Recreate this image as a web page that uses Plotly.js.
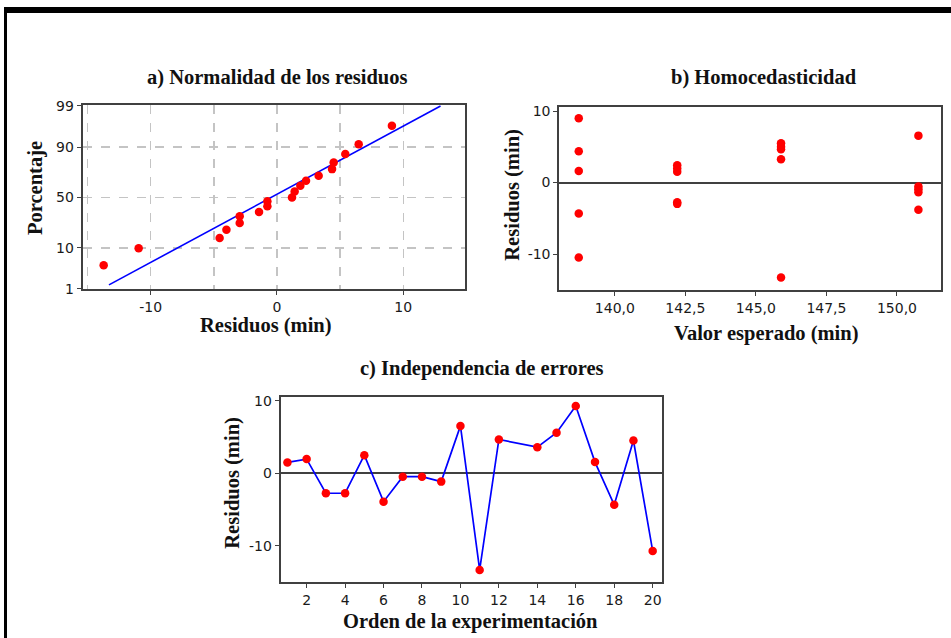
<!DOCTYPE html>
<html><head><meta charset="utf-8">
<script src="https://cdn.plot.ly/plotly-3.0.1.min.js"></script>
<style>html,body{margin:0;padding:0;background:#fff;overflow:hidden}#chart{width:951px;height:638px}</style>
</head><body><div id="chart"></div>
<script>
// ---- Panel a: normal probability plot ----
const normResid = [-13.72, -10.95, -4.54, -4.0, -2.95, -2.95, -1.42, -0.76, -0.76, 1.19, 1.4, 1.85, 2.3, 3.3, 4.36, 4.49, 5.41, 6.47, 9.1];
const normPct   = [4.2, 9.8, 15.1, 20.6, 25.8, 31.5, 35.6, 41, 46, 50, 56, 61.7, 66.4, 71, 76.4, 81.3, 86.5, 91.2, 96.6];
const fitLineResid = [-13.3, 12.95];
const fitLinePct   = [1.3, 99];
const pctTickVals = [1, 10, 50, 90, 99];
const pctTickText = ['1', '10', '50', '90', '99'];
const normXTickVals = [-10, 0, 10];
const normXTickText = ['-10', '0', '10'];

// ---- Panel b: residuals vs fitted ----
const fittedValues = [138.72,138.72,138.72,138.72,138.72, 142.21,142.21,142.21,142.21,142.21, 145.89,145.89,145.89,145.89,145.89, 150.76,150.76,150.76,150.76,150.76];
const fittedResid  = [8.98, 4.37, 1.63, -4.33, -10.47, 2.42, 1.96, 1.5, -2.74, -2.98, 5.49, 5.02, 4.65, 3.26, -13.26, 6.56, -0.56, -0.93, -1.35, -3.81];
const fittedTickVals = [140, 142.5, 145, 147.5, 150];
const fittedTickText = ['140,0', '142,5', '145,0', '147,5', '150,0'];
const residTickVals = [-10, 0, 10];
const residTickText = ['-10', '0', '10'];

// ---- Panel c: residuals vs order ----
const runOrder = [1,2,3,4,5,6,7,8,9,10,11,12,14,15,16,17,18,19,20];
const runResid = [1.5, 1.96, -2.74, -2.74, 2.5, -3.9, -0.46, -0.46, -1.14, 6.53, -13.3, 4.66, 3.6, 5.6, 9.27, 1.55, -4.34, 4.52, -10.68];
const orderTickVals = [2,4,6,8,10,12,14,16,18,20];
const orderTickText = ['2','4','6','8','10','12','14','16','18','20'];

// inverse standard normal CDF (Acklam) for the probability axis scale
function invNorm(p) {
  const a=[-3.969683028665376e+01,2.209460984245205e+02,-2.759285104469687e+02,1.383577518672690e+02,-3.066479806614716e+01,2.506628277459239e+00];
  const b=[-5.447609879822406e+01,1.615858368580409e+02,-1.556989798598866e+02,6.680131188771972e+01,-1.328068155288572e+01];
  const c=[-7.784894002430293e-03,-3.223964580411365e-01,-2.400758277161838e+00,-2.549732539343734e+00,4.374664141464968e+00,2.938163982698783e+00];
  const d=[7.784695709041462e-03,3.224671290700398e-01,2.445134137142996e+00,3.754408661907416e+00];
  const pl=0.02425, ph=1-pl; let q,r;
  if (p<pl){q=Math.sqrt(-2*Math.log(p));return (((((c[0]*q+c[1])*q+c[2])*q+c[3])*q+c[4])*q+c[5])/((((d[0]*q+d[1])*q+d[2])*q+d[3])*q+1);}
  if (p<=ph){q=p-0.5;r=q*q;return (((((a[0]*r+a[1])*r+a[2])*r+a[3])*r+a[4])*r+a[5])*q/(((((b[0]*r+b[1])*r+b[2])*r+b[3])*r+b[4])*r+1);}
  q=Math.sqrt(-2*Math.log(1-p));return -(((((c[0]*q+c[1])*q+c[2])*q+c[3])*q+c[4])*q+c[5])/((((d[0]*q+d[1])*q+d[2])*q+d[3])*q+1);
}
const z = arr => arr.map(v => invNorm(v/100));

const W = 951, H = 638;
const px = v => v / W, py = v => 1 - v / H;

const RED = '#ff0000', BLUE = '#0000ff';
const tickFont = {family: 'DejaVu Sans, Verdana, sans-serif', size: 14, color: '#1a1a1a'};
const titleFont = {family: 'Liberation Serif, Times New Roman, serif', size: 20.5, color: '#111'};

const axBase = {
  showline: true, mirror: true, linecolor: '#404040', linewidth: 2,
  ticks: 'outside', ticklen: 4, tickwidth: 1, tickcolor: '#404040',
  tickfont: tickFont, showgrid: false, zeroline: false, fixedrange: true
};

const traces = [
  {x: fitLineResid, y: z(fitLinePct), xaxis: 'x', yaxis: 'y', mode: 'lines',
   line: {color: BLUE, width: 1.6}, hoverinfo: 'skip'},
  {x: normResid, y: z(normPct), xaxis: 'x', yaxis: 'y', mode: 'markers',
   marker: {color: RED, size: 8.5}},
  {x: fittedValues, y: fittedResid, xaxis: 'x2', yaxis: 'y2', mode: 'markers',
   marker: {color: RED, size: 8.5}},
  {x: runOrder, y: runResid, xaxis: 'x3', yaxis: 'y3', mode: 'lines+markers',
   line: {color: BLUE, width: 1.7}, marker: {color: RED, size: 8.5}}
];

const gridStyle = {showgrid: true, gridcolor: '#c4c4c4', gridwidth: 1.5, griddash: 'dash'};

const layout = {
  width: W, height: H, margin: {l: 0, r: 0, t: 0, b: 0},
  paper_bgcolor: '#fff', plot_bgcolor: '#fff', showlegend: false,
  xaxis: Object.assign({}, axBase, gridStyle, {
    domain: [px(82.7), px(465.3)], anchor: 'y', range: [-15.38, 14.91],
    tickmode: 'array', tickvals: normXTickVals, ticktext: normXTickText,
    minor: {tickmode: 'array', tickvals: [-15, -5, 5, 15], ticklen: 0, showgrid: true,
            gridcolor: '#c4c4c4', gridwidth: 1.5, griddash: 'dash'}
  }),
  yaxis: Object.assign({}, axBase, gridStyle, {
    domain: [py(289), py(105)], anchor: 'x', range: [-2.33, 2.35],
    tickmode: 'array', tickvals: z(pctTickVals), ticktext: pctTickText
  }),
  xaxis2: Object.assign({}, axBase, {
    domain: [px(559.3), px(940.7)], anchor: 'y2', range: [138.03, 151.55],
    tickmode: 'array', tickvals: fittedTickVals, ticktext: fittedTickText
  }),
  yaxis2: Object.assign({}, axBase, {
    domain: [py(290), py(107.3)], anchor: 'x2', range: [-15.02, 10.52],
    tickmode: 'array', tickvals: residTickVals, ticktext: residTickText,
    zeroline: true, zerolinecolor: '#404040', zerolinewidth: 2
  }),
  xaxis3: Object.assign({}, axBase, {
    domain: [px(280.7), px(661.7)], anchor: 'y3', range: [0.65, 20.47],
    tickmode: 'array', tickvals: orderTickVals, ticktext: orderTickText
  }),
  yaxis3: Object.assign({}, axBase, {
    domain: [py(582.3), py(396.7)], anchor: 'x3', range: [-15.0, 10.55],
    tickmode: 'array', tickvals: residTickVals, ticktext: residTickText,
    zeroline: true, zerolinecolor: '#404040', zerolinewidth: 2
  }),
  shapes: [
    {type: 'rect', xref: 'paper', yref: 'paper', x0: px(4), x1: 1, y0: py(13), y1: py(7),
     fillcolor: '#000', line: {width: 0}},
    {type: 'rect', xref: 'paper', yref: 'paper', x0: px(4), x1: px(7), y0: 0, y1: py(7),
     fillcolor: '#000', line: {width: 0}}
  ],
  annotations: [
    ['<b>a) Normalidad de los residuos</b>', 276.5, 78, 0],
    ['<b>b) Homocedasticidad</b>', 764, 78, 0],
    ['<b>c) Independencia de errores</b>', 481.7, 368, 0],
    ['<b>Residuos (min)</b>', 265.5, 325, 0],
    ['<b>Porcentaje</b>', 35, 188, -90],
    ['<b>Valor esperado (min)</b>', 766.7, 333, 0],
    ['<b>Residuos (min)</b>', 511.7, 195, -90],
    ['<b>Orden de la experimentación</b>', 470, 621.7, 0],
    ['<b>Residuos (min)</b>', 231.7, 483, -90]
  ].map(([t, x, y, ang]) => ({
    text: t, xref: 'paper', yref: 'paper', x: px(x), y: py(y),
    xanchor: 'center', yanchor: 'middle', showarrow: false, textangle: ang, font: titleFont
  }))
};

Plotly.newPlot('chart', traces, layout, {displayModeBar: false, staticPlot: true});
</script>
</body></html>
